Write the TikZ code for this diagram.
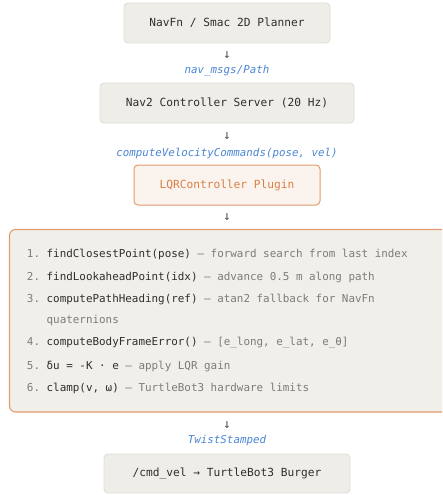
\documentclass[tikz,border=0pt]{standalone}
\usepackage{fontspec}
\setmonofont{DejaVu Sans Mono}
\definecolor{boxfill}{HTML}{EFEDE8}
\definecolor{boxline}{HTML}{E0DDD5}
\definecolor{bigfill}{HTML}{F1EFEA}
\definecolor{orangeline}{HTML}{E39A6E}
\definecolor{orangefill}{HTML}{FBF3EE}
\definecolor{orangetext}{HTML}{D97F45}
\definecolor{labelblue}{HTML}{4A86D4}
\definecolor{darktext}{HTML}{2E2E2E}
\definecolor{graytext}{HTML}{7C7C7C}
\definecolor{arrowgray}{HTML}{555555}
\begin{document}
\begin{tikzpicture}[x=1pt,y=-1pt,
  every node/.style={inner sep=0pt, outer sep=0pt},
  box/.style={draw=boxline, fill=boxfill, line width=0.9pt, rounded corners=4pt,
    minimum height=40pt, text=darktext, font=\ttfamily\fontsize{11.2}{13}\selectfont},
  plugbox/.style={draw=orangeline, fill=orangefill, line width=1pt, rounded corners=4pt,
    minimum height=40pt, minimum width=186pt, text=orangetext, font=\ttfamily\fontsize{11.2}{13}\selectfont},
  bigbox/.style={draw=orangeline, fill=bigfill, line width=1.1pt, rounded corners=6pt},
  flowlabel/.style={text=labelblue, font=\ttfamily\itshape\fontsize{10.8}{13}\selectfont},
  downarrow/.style={text=arrowgray, font=\ttfamily\fontsize{13}{15}\selectfont},
  stepline/.style={anchor=west, font=\ttfamily\fontsize{10.9}{13}\selectfont, text=graytext},
]
\useasboundingbox (0,0) rectangle (442,495);
\clip (0,0) rectangle (442,495);
\fill[white] (0,0) rectangle (442,495);

\node[box, minimum width=206pt] (planner) at (227,23) {NavFn / Smac 2D Planner};
\node[downarrow] (a1) at (227,55) {↓};
\node[flowlabel] (l1) at (227,71) {nav\_msgs/Path};
\node[box, minimum width=254pt] (server) at (227,103) {Nav2 Controller Server (20 Hz)};
\node[downarrow] (a2) at (227,136) {↓};
\node[flowlabel] (l2) at (227,153) {computeVelocityCommands(pose, vel)};
\node[plugbox] (plugin) at (227,185) {LQRController Plugin};
\node[downarrow] (a3) at (227,217.5) {↓};

\draw[bigbox] (9.5,229.5) rectangle (455,412);
\coordinate (steps) at (227,229.5);

\node[stepline] (s1) at (27,254) {1. \textcolor{darktext}{findClosestPoint(pose)} — forward search from last index};
\node[stepline] (s2) at (27,277) {2. \textcolor{darktext}{findLookaheadPoint(idx)} — advance 0.5 m along path};
\node[stepline] (s3) at (27,299.5) {3. \textcolor{darktext}{computePathHeading(ref)} — atan2 fallback for NavFn};
\node[stepline] (s3b) at (27,321) {\phantom{3. }quaternions};
\node[stepline] (s4) at (27,343) {4. \textcolor{darktext}{computeBodyFrameError()} — [e\_long, e\_lat, e\_θ]};
\node[stepline] (s5) at (27,366) {5. \textcolor{darktext}{δu = -K · e} — apply LQR gain};
\node[stepline] (s6) at (27,388) {6. \textcolor{darktext}{clamp(v, ω)} — TurtleBot3 hardware limits};

\node[downarrow] (a4) at (227,425) {↓};
\node[flowlabel] (l4) at (227,441) {TwistStamped};
\node[box, minimum width=246pt, minimum height=39pt] (robot) at (227,473.5) {/cmd\_vel → TurtleBot3 Burger};
\end{tikzpicture}
\end{document}
